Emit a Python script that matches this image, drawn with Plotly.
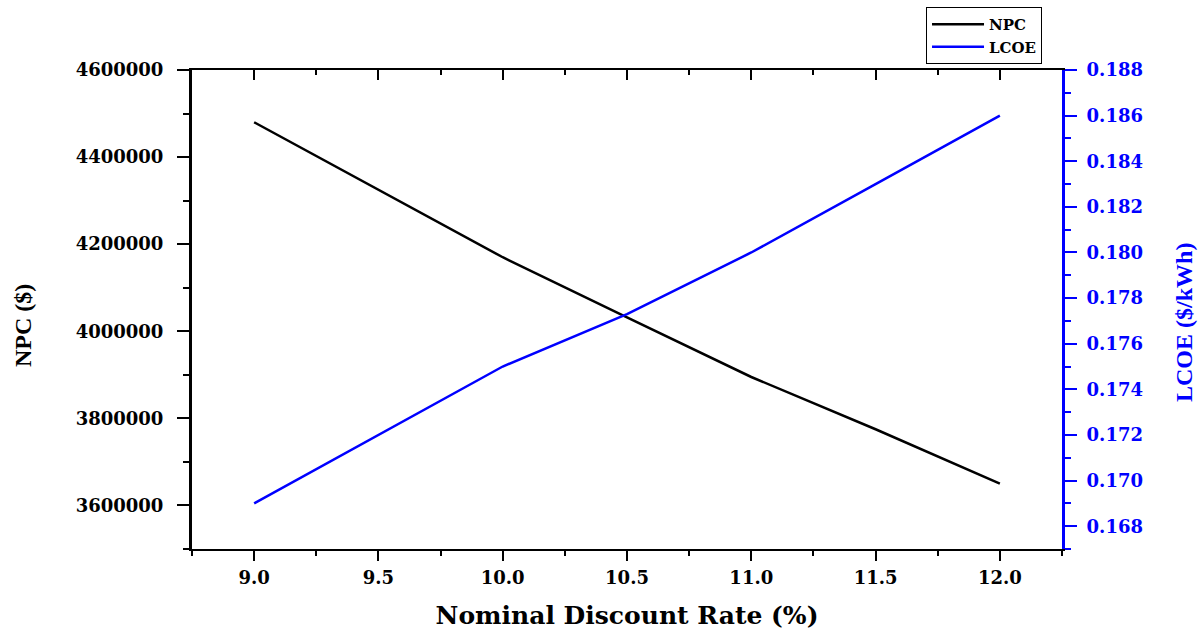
import plotly.graph_objects as go

# Sensitivity of NPC and LCOE to the nominal discount rate
discount_rate = [9.0, 9.5, 10.0, 10.5, 11.0, 11.5, 12.0]
npc_values = [4480000, 4325000, 4170000, 4032000, 3895000, 3775000, 3650000]
lcoe_values = [0.169, 0.172, 0.175, 0.1773, 0.180, 0.183, 0.186]

x_ticks = [9.0, 9.5, 10.0, 10.5, 11.0, 11.5, 12.0]

SERIF_WIDE = "DejaVu Serif"
SERIF = "Liberation Serif"
BLUE = "#0000ff"

fig = go.Figure()

fig.add_trace(go.Scatter(
    x=discount_rate, y=npc_values, name="NPC", mode="lines",
    line=dict(color="black", width=2.5),
))
fig.add_trace(go.Scatter(
    x=discount_rate, y=lcoe_values, name="LCOE", mode="lines",
    line=dict(color=BLUE, width=2.5), yaxis="y2",
))
# invisible carrier so the top frame axis gets drawn
fig.add_trace(go.Scatter(
    x=discount_rate, y=npc_values, xaxis="x2", mode="lines",
    line=dict(width=0), opacity=0, showlegend=False, hoverinfo="skip",
))

tick_font = dict(family=SERIF_WIDE, size=18, color="black", weight="bold")
side_title_font = dict(family=SERIF, size=24, weight="bold")

fig.update_layout(
    width=1203, height=632,
    margin=dict(l=192, r=141, t=70, b=83, autoexpand=False),
    plot_bgcolor="white", paper_bgcolor="white",
    showlegend=True,
    legend=dict(
        x=0.8437, y=1.1315, xanchor="left", yanchor="top",
        bgcolor="white", bordercolor="black", borderwidth=1,
        font=dict(family=SERIF_WIDE, size=15, color="black", weight="bold"),
        itemwidth=52, tracegroupgap=0,
    ),
    xaxis=dict(
        range=[8.75, 12.25], tickvals=x_ticks, tickformat=".1f",
        showgrid=False, zeroline=False,
        showline=True, linecolor="black", linewidth=2,
        ticks="outside", ticklen=10, tickwidth=2, tickcolor="black",
        minor=dict(dtick=0.25, tick0=8.75, ticks="outside", ticklen=5,
                   tickwidth=2, tickcolor="black", showgrid=False),
        tickfont=tick_font, ticklabelstandoff=1,
        title=dict(text="Nominal Discount Rate (%)", standoff=20,
                   font=dict(family=SERIF_WIDE, size=25, color="black",
                             weight="bold")),
    ),
    xaxis2=dict(
        overlaying="x", side="top", matches="x", anchor="y",
        range=[8.75, 12.25], tickvals=x_ticks, showticklabels=False,
        showgrid=False, zeroline=False,
        showline=True, linecolor="black", linewidth=2,
        ticks="inside", ticklen=10, tickwidth=2, tickcolor="black",
        minor=dict(dtick=0.25, tick0=8.75, ticks="inside", ticklen=5,
                   tickwidth=2, tickcolor="black", showgrid=False),
    ),
    yaxis=dict(
        range=[3500000, 4600000], dtick=200000, tick0=3600000,
        tickformat="d",
        showgrid=False, zeroline=False,
        showline=True, linecolor="black", linewidth=3,
        ticks="outside", ticklen=12, tickwidth=2, tickcolor="black",
        minor=dict(dtick=100000, tick0=3500000, ticks="outside", ticklen=6,
                   tickwidth=2, tickcolor="black", showgrid=False),
        tickfont=tick_font, ticklabelstandoff=10,
    ),
    yaxis2=dict(
        overlaying="y", side="right", anchor="x",
        range=[0.167, 0.188], dtick=0.002, tick0=0.168, tickformat=".3f",
        showgrid=False, zeroline=False,
        showline=True, linecolor=BLUE, linewidth=3,
        ticks="outside", ticklen=12, tickwidth=2, tickcolor=BLUE,
        minor=dict(dtick=0.001, tick0=0.167, ticks="outside", ticklen=6,
                   tickwidth=2, tickcolor=BLUE, showgrid=False),
        tickfont=dict(family=SERIF_WIDE, size=18, color=BLUE, weight="bold"),
        ticklabelstandoff=6,
    ),
    annotations=[
        dict(text="NPC ($)", textangle=-90, xref="paper", yref="paper",
             x=-0.1943, y=0.4676, xanchor="center", yanchor="middle",
             showarrow=False, font=dict(side_title_font, color="black")),
        dict(text="LCOE ($/kWh)", textangle=-90, xref="paper", yref="paper",
             x=1.1402, y=0.4739, xanchor="center", yanchor="middle",
             showarrow=False, font=dict(side_title_font, color=BLUE)),
    ],
)

fig.write_html("out.html")
